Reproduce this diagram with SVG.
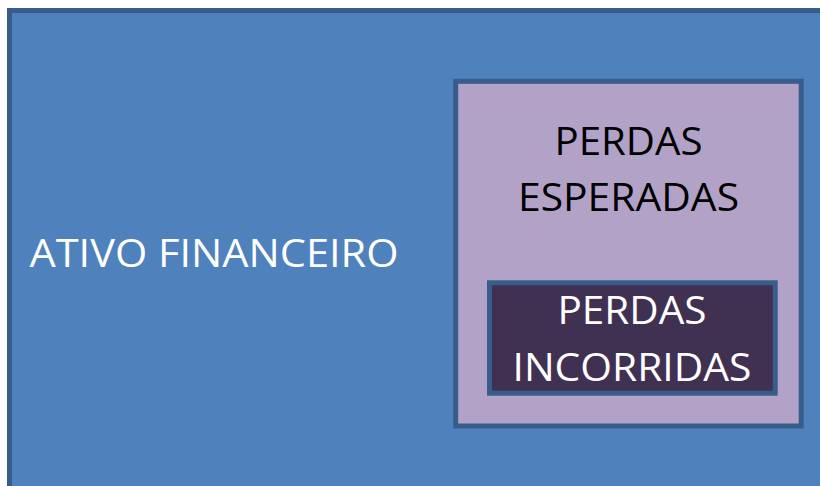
<svg xmlns="http://www.w3.org/2000/svg" width="820" height="486" viewBox="0 0 820 486">
<style>
.box{stroke:#385d8a;stroke-width:5}
.t{font-family:"Open Sans","Liberation Sans",sans-serif;font-size:39px;text-anchor:middle}
</style>
<rect width="820" height="486" fill="#ffffff"/>
<g id="ativo">
<rect class="box" x="9.5" y="10.5" width="830" height="500" fill="#4f81bd"/>
<text class="t" x="214" y="267" fill="#ffffff" textLength="369" lengthAdjust="spacingAndGlyphs">ATIVO FINANCEIRO</text>
</g>
<g id="esperadas">
<rect class="box" x="455.7" y="81.3" width="345.5" height="344.7" fill="#b3a2c7"/>
<text class="t" x="628.5" y="155" fill="#000000" textLength="148" lengthAdjust="spacingAndGlyphs">PERDAS</text>
<text class="t" x="628.5" y="211" fill="#000000" textLength="221" lengthAdjust="spacingAndGlyphs">ESPERADAS</text>
</g>
<g id="incorridas">
<rect class="box" x="489.5" y="282.8" width="285.7" height="110.4" fill="#403152"/>
<text class="t" x="632" y="324" fill="#ffffff" textLength="149" lengthAdjust="spacingAndGlyphs">PERDAS</text>
<text class="t" x="632" y="381" fill="#ffffff" textLength="239" lengthAdjust="spacingAndGlyphs">INCORRIDAS</text>
</g>
<g id="connectors"></g>
</svg>
